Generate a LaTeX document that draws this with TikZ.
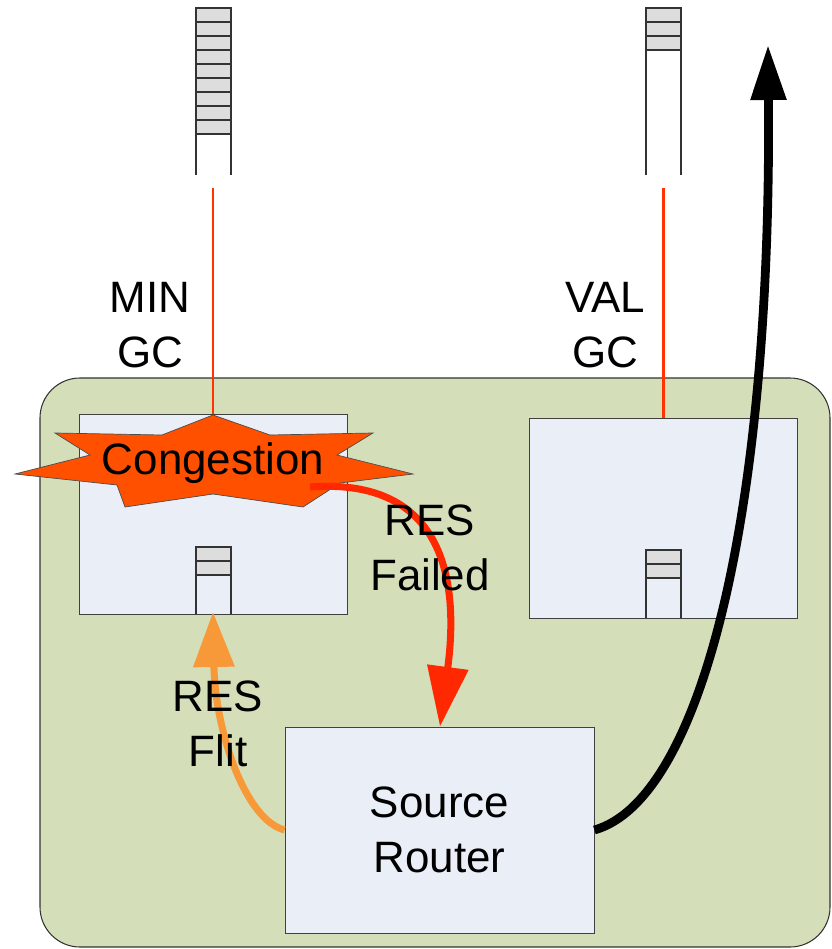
\documentclass[tikz,border=0pt]{standalone}
\usepackage{fontspec}
\setmainfont{Liberation Sans}
\usetikzlibrary{arrows.meta,positioning}
\definecolor{chipgreen}{RGB}{212,223,186}
\definecolor{boxblue}{RGB}{233,238,247}
\definecolor{cellgray}{RGB}{221,221,221}
\definecolor{linkred}{RGB}{255,51,0}
\definecolor{failred}{RGB}{255,40,0}
\definecolor{flitorange}{RGB}{247,153,57}
\definecolor{burst}{RGB}{255,80,0}
\tikzset{
  chip/.style={draw=black!80, fill=chipgreen, rounded corners=0.8cm, line width=0.6pt},
  qbox/.style={draw=black!75, fill=boxblue, minimum width=5.36cm, minimum height=4cm, inner sep=0pt, line width=0.5pt},
  rtbox/.style={draw=black!75, fill=boxblue, minimum width=6.18cm, minimum height=4.12cm, inner sep=0pt, line width=0.5pt,
                align=center, font=\fontsize{25}{31}\selectfont},
  bufcell/.style={draw=black!80, fill=cellgray, line width=0.7pt},
  bufside/.style={draw=black!80, line width=0.7pt},
  glink/.style={linkred, line width=1.7pt},
  lbl/.style={align=center, font=\fontsize{25}{31}\selectfont},
  burststar/.style={draw=black!70, fill=burst, line width=0.4pt},
  failarr/.style={-{Triangle[length=1.2cm, width=0.8cm]}, failred, line width=4pt},
  flitarr/.style={-{Triangle[length=1.1cm, width=0.8cm]}, flitorange, line width=4pt},
  outarr/.style={-{Triangle[length=1.1cm, width=0.68cm]}, black, line width=5pt},
}
\begin{document}
\begin{tikzpicture}[x=0.02cm, y=-0.02cm]
  \useasboundingbox (0,0) rectangle (831,949);
  % router chip
  \draw[chip] (40,378) rectangle (830,947);
  \node[qbox] (minq) at (213,514) {};
  \node[qbox] (valq) at (663,518) {};
  \node[rtbox] (src) at (439.5,830) {Source\\Router};
  % input buffers inside the router
  \foreach \i in {0,1} \draw[bufcell] (196,547+14*\i) rectangle ++(35,14);
  \draw[bufside] (196,575) -- (196,614) (231,575) -- (231,614);
  \foreach \i in {0,1} \draw[bufcell] (646,550+14*\i) rectangle ++(35,14);
  \draw[bufside] (646,578) -- (646,618) (681,578) -- (681,618);
  % remote buffers
  \foreach \i in {0,...,8} \draw[bufcell] (196,8+14*\i) rectangle ++(35,14);
  \draw[bufside] (196,134) -- (196,175) (231,134) -- (231,175);
  \foreach \i in {0,...,2} \draw[bufcell] (646,8+14*\i) rectangle ++(35,14);
  \draw[bufside] (646,50) -- (646,175) (681,50) -- (681,175);
  \coordinate (minbuf) at (213,188);
  \coordinate (valbuf) at (663,188);
  \draw[glink] (minbuf) -- (minq.north);
  \draw[glink] (valbuf) -- (valq.north);
  \node[lbl] (mingc) at (150,325) {MIN\\GC};
  \node[lbl] (valgc) at (605,325) {VAL\\GC};
  % congestion burst
  \draw[burststar] (213,415) -- (270,435) -- (373,433) -- (337,455) -- (413,474)
    -- (340,483) -- (303,507) -- (213,494) -- (125,507) -- (117,485) -- (15,474)
    -- (90,455) -- (55,433) -- (162,435) -- cycle;
  \node[font=\fontsize{25}{31}\selectfont] (cong) at (213,463) {Congestion};
  % arrows
  \coordinate (failst) at (310,487);
  \coordinate (flitend) at (213,612);
  \coordinate (outend) at (768,45);
  \draw[failarr] (failst) .. controls (430,478) and (462,560) .. (src.north -| 440,0);
  \draw[flitarr] (src.west) .. controls (245,820) and (215,730) .. (flitend);
  \draw[outarr] (src.east) .. controls (700,800) and (772,520) .. (outend);
  \node[lbl] (failtxt) at (430,548) {RES\\Failed};
  \node[lbl] (flittxt) at (218,724) {RES\\Flit};
\end{tikzpicture}
\end{document}
